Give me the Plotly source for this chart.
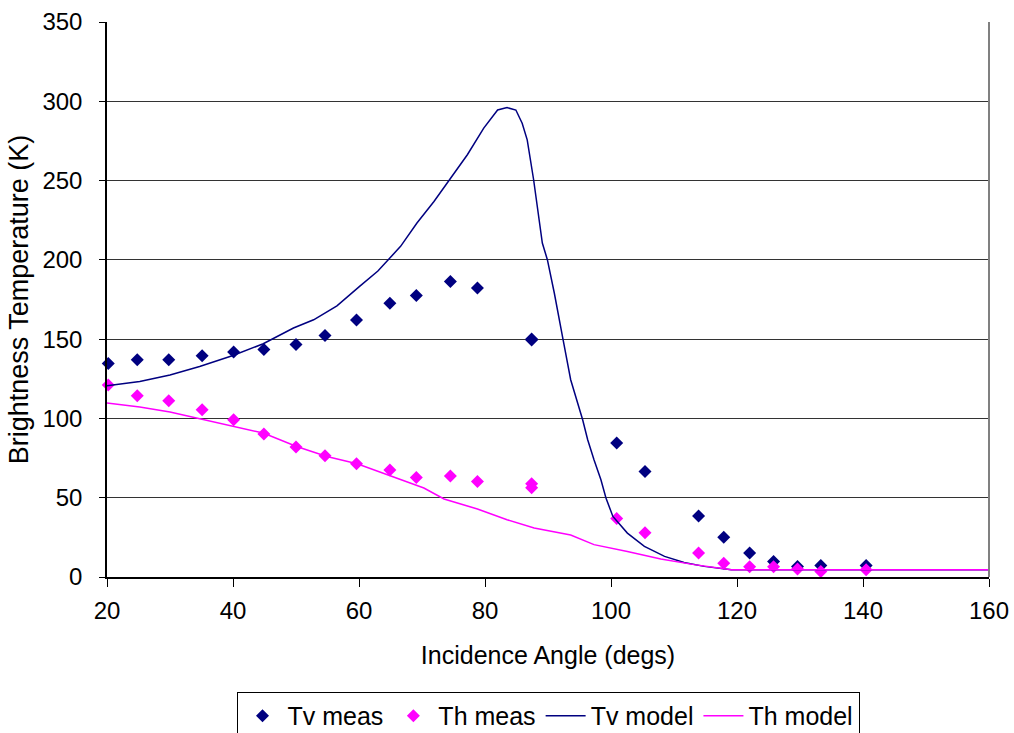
import plotly.graph_objects as go

# Measured points (incidence angle in degrees, brightness temperature in K)
angle_meas = [20.2, 24.8, 29.8, 35.1, 40.1, 44.9, 50.0, 54.6, 59.6, 64.9, 69.1, 74.5,
              78.8, 87.4, 87.4, 100.9, 105.4, 113.9, 117.9, 122.0, 125.8, 129.6, 133.3, 140.5]
tv_meas = [134.7, 137.0, 137.0, 139.5, 141.9, 143.5, 146.7, 152.3, 162.0, 172.6, 177.6, 186.4,
           182.2, 150.1, 149.4, 84.5, 66.6, 38.4, 25.0, 15.1, 9.8, 6.7, 7.3, 7.3]
th_meas = [121.1, 114.3, 111.2, 105.5, 99.2, 90.2, 82.0, 76.5, 71.4, 67.5, 62.8, 63.7,
           60.3, 58.8, 56.3, 36.9, 27.9, 15.1, 8.6, 6.5, 6.5, 5.0, 3.5, 4.6]

# Model curves
tv_model_angle = [19.3, 20, 25.2, 30, 34.7, 40, 44.8, 47, 49.6, 52.8, 56.5, 60, 63, 66.6, 69.2,
                  71.9, 74.5, 77.2, 79.8, 82.0, 83.5, 84.9, 85.9, 86.7, 87.7, 88.3, 89.1, 89.9,
                  91.0, 92.4, 93.6, 95.5, 96.3, 97.3, 98.4, 99.2, 100.3, 102.6, 105.3, 108.5,
                  111.6, 114.8, 119.1, 130, 140, 150, 161.2]
tv_model = [120, 120.6, 123.3, 127.4, 132.8, 139.7, 147.1, 151.7, 157, 162.2, 171, 183, 193,
            208.5, 223.2, 236.8, 251, 266.3, 283.1, 294.5, 296.0, 294.5, 286.2, 275.7, 251,
            233.7, 210.6, 200.1, 179.1, 149.6, 124.4, 99.2, 86.6, 74, 61.3, 49.8, 38.2, 27.7,
            19.3, 13, 9.2, 6.7, 4.6, 4.6, 4.6, 4.6, 4.6]
th_model_angle = [19.3, 20, 25.2, 30, 34.7, 40, 44.8, 50.1, 54.9, 59.7, 65, 70.3, 73.5, 78.8,
                  83.5, 87.8, 93.6, 97.3, 102.6, 107.9, 113.2, 119.1, 130, 140, 150, 161.2]
th_model = [110, 109.7, 107.2, 104, 99.8, 95.4, 90.8, 82.3, 76, 71.4, 63.9, 56.1, 49.2, 42.9,
            36.1, 30.9, 26.5, 20.4, 16.1, 11.3, 7.8, 4.6, 4.6, 4.6, 4.6, 4.6]

x_ticks = [20, 40, 60, 80, 100, 120, 140, 160]
y_ticks = [0, 50, 100, 150, 200, 250, 300, 350]

NAVY = "#000080"
MAGENTA = "#FF00FF"
FONT = "Liberation Sans, Arial, sans-serif"

fig = go.Figure()
fig.add_trace(go.Scatter(x=angle_meas, y=tv_meas, mode="markers", name="Tv meas",
                         marker=dict(symbol="diamond", size=10, color=NAVY,
                                     line=dict(width=0)), cliponaxis=False))
fig.add_trace(go.Scatter(x=angle_meas, y=th_meas, mode="markers", name="Th meas",
                         marker=dict(symbol="diamond", size=10, color=MAGENTA,
                                     line=dict(width=0)), cliponaxis=False))
fig.add_trace(go.Scatter(x=tv_model_angle, y=tv_model, mode="lines", name="Tv model",
                         line=dict(color=NAVY, width=1.5)))
fig.add_trace(go.Scatter(x=th_model_angle, y=th_model, mode="lines", name="Th model",
                         line=dict(color=MAGENTA, width=1.5)))

fig.update_layout(
    width=1014, height=733,
    margin=dict(l=107, r=25, t=22, b=156, autoexpand=False),
    paper_bgcolor="white", plot_bgcolor="white",
    font=dict(family=FONT, size=24, color="black"),
    showlegend=True,
    legend=dict(orientation="h", x=0.5, xanchor="center", y=-0.207, yanchor="top",
                bordercolor="black", borderwidth=1, font=dict(size=25),
                itemwidth=40, tracegroupgap=0),
    xaxis=dict(range=[20, 160], tickvals=x_ticks, ticks="outside", ticklen=8,
               tickcolor="black", showline=True, linecolor="black", linewidth=2,
               showgrid=False, zeroline=False, ticklabelstandoff=3,
               title=dict(text="Incidence Angle (degs)", font=dict(size=25), standoff=24),
               tickfont=dict(size=24)),
    yaxis=dict(range=[0, 350], tickvals=y_ticks, ticks="outside", ticklen=6,
               tickcolor="black", showline=True, linecolor="black", linewidth=1.5,
               showgrid=True, gridcolor="#333333", gridwidth=1, zeroline=False,
               ticklabelstandoff=12,
               title=dict(text="Brightness Temperature (K)", font=dict(size=27), standoff=6),
               tickfont=dict(size=24)),
    shapes=[dict(type="line", xref="paper", yref="paper", x0=1, x1=1, y0=0, y1=1,
                 line=dict(color="#808080", width=2))],
)

fig.write_html("out.html")
